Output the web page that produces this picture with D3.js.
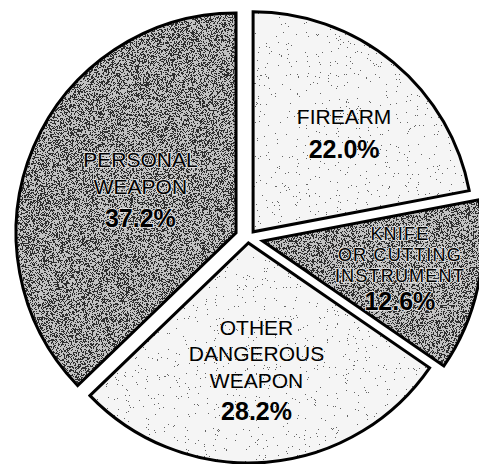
<!DOCTYPE html>
<html>
<head>
<meta charset="utf-8">
<script src="https://cdn.jsdelivr.net/npm/d3@7"></script>
<style>
  html, body { margin: 0; padding: 0; background: #fff; }
  svg { display: block; }
</style>
</head>
<body>
<svg id="chart" width="479" height="464"></svg>
<script>
// ---- data ----
const categories = ["FIREARM", "KNIFE OR CUTTING INSTRUMENT", "OTHER DANGEROUS WEAPON", "PERSONAL WEAPON"];
const values = [22.0, 12.6, 28.2, 37.2];
const labelLines = [["FIREARM"], ["KNIFE", "OR CUTTING", "INSTRUMENT"], ["OTHER", "DANGEROUS", "WEAPON"], ["PERSONAL", "WEAPON"]];

// ---- styles (not data) ----
const styles = [
  { tex: "light", explode: 8,  labelR: 134, labelT: 0.54, fs: 21, lh: 27, gap: 34, ls: 0 },
  { tex: "dark",  explode: 15, labelR: 140, labelT: 0.49, fs: 18, lh: 21, gap: 28, ls: 1.2 },
  { tex: "light", explode: 5,  labelR: 127, labelT: 0.51, fs: 21, lh: 26.5, gap: 32, ls: 0 },
  { tex: "dark",  explode: 13, labelR: 105, labelT: 0.51, fs: 21, lh: 27, gap: 33, ls: 0 }
];
const W = 479, H = 464, cx = 248, cy = 238, R = 220, pctSize = 25;

const svg = d3.select("#chart");
const defs = svg.append("defs");

function noiseFilter(id, base, ink, slope, intercept, seed, freq, oct) {
  const f = defs.append("filter").attr("id", id)
    .attr("x", "0%").attr("y", "0%").attr("width", "100%").attr("height", "100%")
    .attr("color-interpolation-filters", "sRGB");
  f.append("feTurbulence").attr("type", "fractalNoise").attr("baseFrequency", freq)
    .attr("numOctaves", oct).attr("seed", seed).attr("result", "t");
  f.append("feColorMatrix").attr("in", "t").attr("type", "matrix")
    .attr("values", "0 0 0 0 0  0 0 0 0 0  0 0 0 0 0  1 0 0 0 0").attr("result", "a");
  const ct = f.append("feComponentTransfer").attr("in", "a").attr("result", "a2");
  ct.append("feFuncA").attr("type", "linear").attr("slope", slope).attr("intercept", intercept);
  const ct2 = f.append("feComponentTransfer").attr("in", "a2").attr("result", "b");
  ct2.append("feFuncA").attr("type", "discrete").attr("tableValues", "0 1");
  f.append("feFlood").attr("flood-color", ink).attr("result", "inkc");
  f.append("feComposite").attr("in", "inkc").attr("in2", "b").attr("operator", "in").attr("result", "dots");
  f.append("feFlood").attr("flood-color", base).attr("result", "bg");
  f.append("feComposite").attr("in", "dots").attr("in2", "bg").attr("operator", "over").attr("result", "m");
  f.append("feComposite").attr("in", "m").attr("in2", "SourceGraphic").attr("operator", "in");
}
noiseFilter("fDark", "#c2c2c2", "#2e2e2e", 1, -0.025, 4, 1.8, 1);
noiseFilter("fLight", "#f5f5f5", "#666666", 6, -3.95, 9, 1.1, 2);

const pie = d3.pie().sort(null).startAngle(0).endAngle(2 * Math.PI).value(d => d);
const arcs = pie(values);
const arc = d3.arc().innerRadius(0).outerRadius(R);
const fmt = d3.format(".1f");

const g = svg.append("g").attr("transform", `translate(${cx},${cy})`);

arcs.forEach((a, i) => {
  const st = styles[i];
  const mid = (a.startAngle + a.endAngle) / 2;
  const ox = Math.sin(mid) * st.explode, oy = -Math.cos(mid) * st.explode;
  const sg = g.append("g").attr("transform", `translate(${ox},${oy})`);
  sg.append("path").attr("d", arc(a)).attr("fill", "#000")
    .attr("filter", st.tex === "dark" ? "url(#fDark)" : "url(#fLight)");
  sg.append("path").attr("d", arc(a)).attr("fill", "none")
    .attr("stroke", "#000").attr("stroke-width", 3).attr("stroke-linejoin", "miter");

  // label
  const la = a.startAngle + (a.endAngle - a.startAngle) * st.labelT;
  const lx = Math.sin(la) * st.labelR, ly = -Math.cos(la) * st.labelR;
  const lines = labelLines[i];
  const n = lines.length;
  const capN = st.fs * 0.716;
  const pctB = (n - 1) * st.lh + st.gap;
  const center = (-capN + pctB) / 2;
  const dark = st.tex === "dark";
  const t = sg.append("g").attr("transform", `translate(${lx},${ly - center})`)
    .attr("font-family", "'Liberation Sans', Arial, Helvetica, sans-serif")
    .attr("text-anchor", "middle").attr("fill", "#000");
  const styleText = sel => {
    if (dark) {
      sel.attr("stroke", "#f2f2f2").attr("stroke-width", 2)
        .attr("stroke-opacity", 0.75).attr("paint-order", "stroke")
        .attr("stroke-linejoin", "round");
    }
    return sel;
  };
  lines.forEach((ln, k) => {
    styleText(t.append("text").attr("x", 0).attr("y", k * st.lh)
      .attr("font-size", st.fs).attr("letter-spacing", st.ls).text(ln));
  });
  styleText(t.append("text").attr("x", 0).attr("y", pctB)
    .attr("font-size", pctSize).attr("font-weight", "bold").text(fmt(values[i]) + "%"));
});
</script>
</body>
</html>
